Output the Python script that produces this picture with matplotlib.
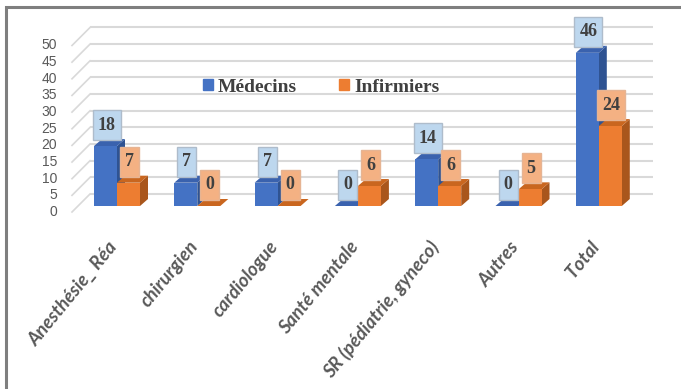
import matplotlib
matplotlib.use('Agg')
import matplotlib.pyplot as plt
from matplotlib.patches import Polygon, Rectangle, Patch
from matplotlib.transforms import Affine2D, ScaledTranslation
from matplotlib import font_manager as fm

categories = ['Anesthésie_ Réa', 'chirurgien', 'cardiologue', 'Santé mentale',
              'SR (pédiatrie, gyneco)', 'Autres', 'Total']
medecins = [18, 7, 7, 0, 14, 0, 46]
infirmiers = [7, 0, 0, 6, 6, 5, 24]
series_names = ['Médecins', 'Infirmiers']
yticks = list(range(0, 55, 5))


def pick(cands):
    for c in cands:
        try:
            fm.findfont(fm.FontProperties(family=c), fallback_to_default=False)
            return c
        except Exception:
            pass
    return 'DejaVu Sans'


narrow = pick(['Liberation Sans Narrow', 'Liberation Sans'])
serif = pick(['Liberation Serif', 'DejaVu Serif'])
catfont = pick(['Lato', 'Open Sans', 'DejaVu Sans'])

W, H = 681, 389
fig = plt.figure(figsize=(W / 100, H / 100), dpi=100)
L, R, T, B = 40, 670, 10, 300
ax = fig.add_axes([L / W, 1 - B / H, (R - L) / W, (B - T) / H])
x0pix, sx = 117, 80.3
y0pix, sy = 206, 3.33
ax.set_xlim((L - x0pix) / sx, (R - x0pix) / sx)
ax.set_ylim((y0pix - B) / sy, (y0pix - T) / sy)
ax.axis('off')


def off(dx, dy):
    return ax.transData + Affine2D().translate(dx, dy)


# back wall gridlines and floor diagonals
xl = (78 - x0pix) / sx
xr = (641 - x0pix) / sx
grid_c = '#d9d9d9'
for v in yticks:
    ax.plot([xl, xr], [v, v], transform=off(12, 12), color=grid_c, lw=1.5,
            solid_capstyle='butt', zorder=1)
    ax.plot([xl - 18 / sx, xl], [v - 18 / sy, v], transform=off(12, 12),
            color=grid_c, lw=1.2, zorder=1)
    ax.text(xl, v, str(v), transform=off(-21, -6), ha='right', va='center',
            fontsize=10, family=narrow, color='#595959')

bw = 23 / sx
ddx, ddy = 8 / sx, 7 / sy
styles = [
    dict(front='#4472C4', top='#3A62AE', side='#2F5392', lab='#BDD7EE', edge='#aebccb'),
    dict(front='#ED7D31', top='#C9661F', side='#A9561C', lab='#F4B183', edge='#e6b493'),
]
z = 2
for si, vals in enumerate([medecins, infirmiers]):
    st = styles[si]
    for i, v in enumerate(vals):
        x0 = i - bw if si == 0 else i
        x1 = x0 + bw
        ax.add_patch(Polygon([(x1, 0), (x1, v), (x1 + ddx, v + ddy), (x1 + ddx, ddy)],
                             closed=True, fc=st['side'], ec='none', zorder=z))
        ax.add_patch(Polygon([(x0, v), (x1, v), (x1 + ddx, v + ddy), (x0 + ddx, v + ddy)],
                             closed=True, fc=st['top'], ec='none', zorder=z))
    ax.bar([i - bw / 2 if si == 0 else i + bw / 2 for i in range(len(vals))], vals,
           width=bw, color=st['front'], zorder=z + 0.5, linewidth=0)
    z += 1

for si, vals in enumerate([medecins, infirmiers]):
    st = styles[si]
    for i, v in enumerate(vals):
        cx = i - bw / 2 if si == 0 else i + bw / 2
        w = 10 + 9 * len(str(v))
        hgt = 30
        ax.add_patch(Rectangle((-w / 2 + 1, 6), w, hgt,
                               transform=ScaledTranslation(cx, v, ax.transData),
                               fc=st['lab'], ec=st['edge'], lw=1.0, zorder=9))
        ax.annotate(str(v), xy=(cx, v), xytext=(1, 6 + hgt / 2), textcoords='offset pixels',
                    ha='center', va='center', fontsize=13, family=serif,
                    weight='bold', color='#404040', zorder=10)

for i, c in enumerate(categories):
    ax.text(i, 0, c, transform=off(-9, -32), rotation=50.5, rotation_mode='anchor',
            ha='right', va='top', fontsize=13.5, family=catfont, style='italic',
            weight='bold', color='#595959')

handles = [Patch(color=styles[0]['front']), Patch(color=styles[1]['front'])]
fig.legend(handles, series_names, loc='center', bbox_to_anchor=(321 / W, 1 - 87 / H),
           ncol=2, frameon=False, handlelength=0.5, handleheight=0.5,
           handletextpad=0.25, columnspacing=2.2,
           prop=dict(family=serif, weight='bold', size=14), labelcolor='#404040')

fig.add_artist(Rectangle((6 / W, -0.1), 1.2, (1 - 7 / H) + 0.1, transform=fig.transFigure,
                         fill=False, ec='#7f7f7f', lw=2.2))

fig.savefig('out.png', dpi=100)
